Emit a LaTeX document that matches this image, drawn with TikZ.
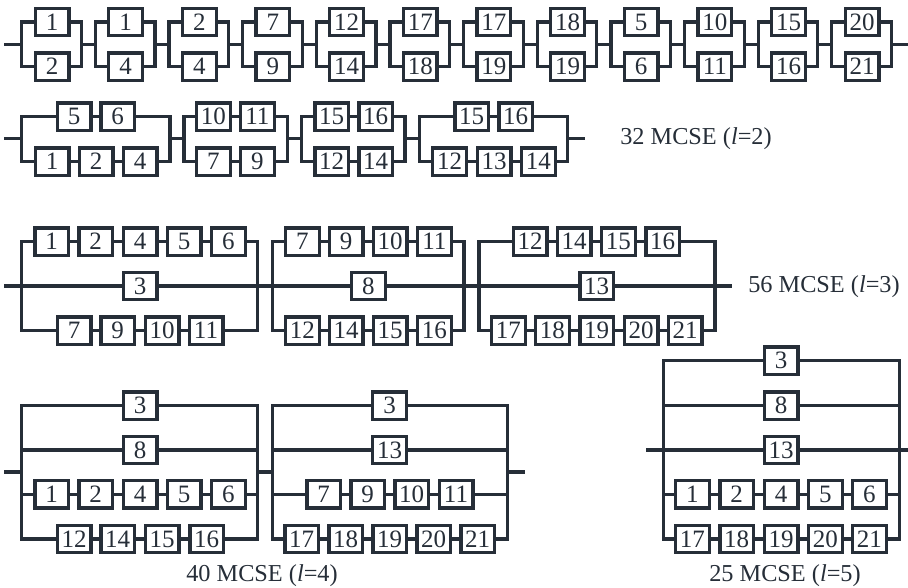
\documentclass[tikz,border=0pt]{standalone}
\usepackage{fontspec}
\setmainfont{Liberation Serif}
\usetikzlibrary{positioning}
\definecolor{wirecolor}{HTML}{262E38}

% one series row: name, y, left x, right x, list of x/label
\newcommand{\branch}[5]{%
  \coordinate (#1-in) at (#3,#2);
  \coordinate (#1-out) at (#4,#2);
  \foreach \bx/\blab [count=\k, remember=\k as \prevk (initially in)] in {#5} {
    \node[unitbox] (#1-\k) at (\bx,#2) {\blab};
    \draw[wire] (#1-\prevk) -- (#1-\k);
    \xdef\lastk{\k}
  }
  \draw[wire] (#1-\lastk) -- (#1-out);
}
% the two side bars of a block: name, top row, bottom row, y of the stubs
\newcommand{\bars}[4]{%
  \draw[wire] (#2-in) -- (#3-in);
  \draw[wire] (#2-out) -- (#3-out);
  \coordinate (#1-l) at (#2-in |- 0,#4);
  \coordinate (#1-r) at (#2-out |- 0,#4);
}

\begin{document}
\begin{tikzpicture}[
  x=1pt, y=-1pt,
  wire/.style={draw=wirecolor, line width=3.2pt, line cap=rect},
  unitbox/.style={draw=wirecolor, fill=white, line width=3.3pt, minimum width=33.7pt,
    minimum height=27.3pt, inner sep=0pt, text=wirecolor, font=\fontsize{25}{25}\selectfont},
  caption/.style={text=wirecolor, inner sep=0pt, font=\fontsize{24.3}{24.3}\selectfont},
]
\useasboundingbox (0,0) rectangle (908,587);

% Row 1, l=2, blocks of two
\coordinate (aa-0-r) at (6,44.3);
\foreach \i/\up/\dn [count=\n] in {0/1/2,1/1/4,2/2/4,3/7/9,4/12/14,5/17/18,6/17/19,7/18/19,8/5/6,9/10/11,10/15/16,11/20/21} {
  \pgfmathsetmacro{\cx}{52+73.65*\i}
  \pgfmathsetmacro{\lx}{\cx-30.3}
  \pgfmathsetmacro{\rx}{\cx+29.3}
  \branch{aa-\n-up}{22}{\lx}{\rx}{\cx/\up}
  \branch{aa-\n-dn}{66.7}{\lx}{\rx}{\cx/\dn}
  \bars{aa-\n}{aa-\n-up}{aa-\n-dn}{44.3}
  \draw[wire] (aa-\i-r) -- (aa-\n-l);
}
\coordinate (aa-end) at (907,44.3);
\draw[wire] (aa-12-r) -- (aa-end);

% Row 2, l=2, longer blocks
\branch{bb1-up}{116.7}{21.7}{170}{74/5,117.7/6}
\branch{bb1-dn}{161.7}{21.7}{170}{52/1,96/2,140/4}
\bars{bb1}{bb1-up}{bb1-dn}{138.3}
\branch{bb2-up}{116.7}{184}{287.3}{213.3/10,257.3/11}
\branch{bb2-dn}{161.7}{184}{287.3}{213.3/7,257.3/9}
\bars{bb2}{bb2-up}{bb2-dn}{138.3}
\branch{bb3-up}{116.7}{301.7}{405}{331.7/15,375.7/16}
\branch{bb3-dn}{161.7}{301.7}{405}{331.7/12,375.7/14}
\bars{bb3}{bb3-up}{bb3-dn}{138.3}
\branch{bb4-up}{116.7}{419.3}{567.3}{471.7/15,515.7/16}
\branch{bb4-dn}{161.7}{419.3}{567.3}{449.5/12,494/13,538.3/14}
\bars{bb4}{bb4-up}{bb4-dn}{138.3}
\coordinate (bb-start) at (6,138.3);
\coordinate (bb-end) at (583,138.3);
\draw[wire] (bb-start) -- (bb1-l);
\draw[wire] (bb1-r) -- (bb2-l);
\draw[wire] (bb2-r) -- (bb3-l);
\draw[wire] (bb3-r) -- (bb4-l);
\draw[wire] (bb4-r) -- (bb-end);
\node[caption] (cap2) at (696,138.7) {32 MCSE (\textit{l}=2)};

% Row 3, l=3
\branch{cc1-up}{241.7}{21.7}{257.7}{51.7/1,95.7/2,140/4,184/5,228.3/6}
\branch{cc1-mid}{286}{21.7}{257.7}{140/3}
\branch{cc1-dn}{330.7}{21.7}{257.7}{74/7,117.7/9,162/10,206/11}
\bars{cc1}{cc1-up}{cc1-dn}{286}
\branch{cc2-up}{241.7}{272.7}{464}{302.3/7,346/9,390/10,434.3/11}
\branch{cc2-mid}{286}{272.7}{464}{368.3/8}
\branch{cc2-dn}{330.7}{272.7}{464}{302.3/12,346/14,390/15,434.3/16}
\bars{cc2}{cc2-up}{cc2-dn}{286}
\branch{cc3-up}{241.7}{479}{715}{530/12,574/14,618.3/15,662.7/16}
\branch{cc3-mid}{286}{479}{715}{596.7/13}
\branch{cc3-dn}{330.7}{479}{715}{508.3/17,552.3/18,596.7/19,641/20,685/21}
\bars{cc3}{cc3-up}{cc3-dn}{286}
\coordinate (cc-start) at (6,286);
\coordinate (cc-end) at (730,286);
\draw[wire] (cc-start) -- (cc1-l);
\draw[wire] (cc1-r) -- (cc2-l);
\draw[wire] (cc2-r) -- (cc3-l);
\draw[wire] (cc3-r) -- (cc-end);
\node[caption] (cap3) at (824,287) {56 MCSE (\textit{l}=3)};

% Row 4, l=4
\branch{dd1-a}{405.7}{21.7}{257.7}{140/3}
\branch{dd1-b}{450}{21.7}{257.7}{140/8}
\branch{dd1-c}{494.3}{21.7}{257.7}{51.7/1,95.7/2,140/4,184/5,228.3/6}
\branch{dd1-d}{539}{21.7}{257.7}{74/12,117.7/14,162/15,206.7/16}
\bars{dd1}{dd1-a}{dd1-d}{472}
\branch{dd2-a}{405.7}{272.7}{507.6}{389.5/3}
\branch{dd2-b}{450}{272.7}{507.6}{389.5/13}
\branch{dd2-c}{494.3}{272.7}{507.6}{323.7/7,367.7/9,411.7/10,456/11}
\branch{dd2-d}{539}{272.7}{507.6}{301.7/17,345.7/18,389.7/19,433.7/20,477.7/21}
\bars{dd2}{dd2-a}{dd2-d}{472}
\coordinate (dd-start) at (6,472);
\coordinate (dd-end) at (523,472);
\draw[wire] (dd-start) -- (dd1-l);
\draw[wire] (dd1-r) -- (dd2-l);
\draw[wire] (dd2-r) -- (dd-end);
\node[caption] (cap4) at (262,576) {40 MCSE (\textit{l}=4)};

% Right block, l=5
\branch{ee-a}{360.7}{663.3}{899.3}{781/3}
\branch{ee-b}{405.7}{663.3}{899.3}{781/8}
\branch{ee-c}{450}{663.3}{899.3}{781/13}
\branch{ee-d}{494.3}{663.3}{899.3}{692.3/1,736.7/2,781/4,825.3/5,869.3/6}
\branch{ee-f}{539}{663.3}{899.3}{692.3/17,736.7/18,781/19,825.3/20,869.3/21}
\bars{ee}{ee-a}{ee-f}{450}
\coordinate (ee-start) at (647.3,450);
\coordinate (ee-end) at (908,450);
\draw[wire] (ee-start) -- (ee-l);
\draw[wire] (ee-r) -- (ee-end);
\node[caption] (cap5) at (785,576) {25 MCSE (\textit{l}=5)};

\end{tikzpicture}
\end{document}
